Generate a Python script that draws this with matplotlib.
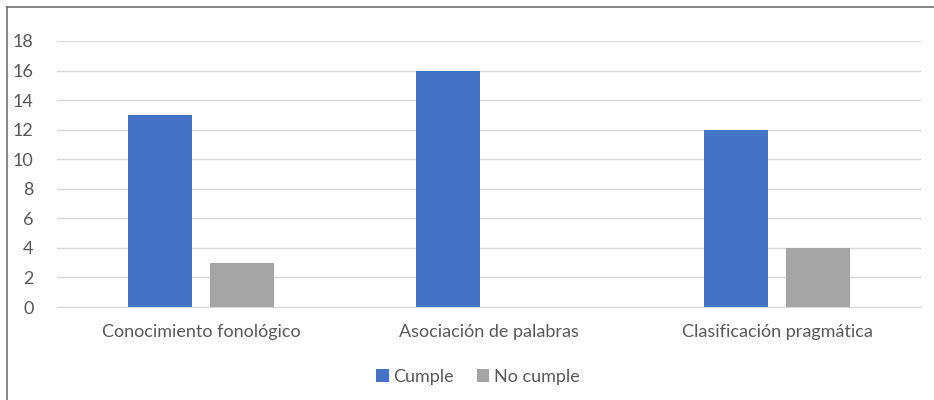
import matplotlib.pyplot as plt
import matplotlib.lines as mlines
import numpy as np

# Chart data
categories = ['Conocimiento fonológico', 'Asociación de palabras', 'Clasificación pragmática']
cumple = [13, 16, 12]
no_cumple = [3, 0, 4]
series_names = ['Cumple', 'No cumple']
y_ticks = [0, 2, 4, 6, 8, 10, 12, 14, 16, 18]

BLUE = '#4472C4'
GRAY = '#A5A5A5'
TEXT = '#595959'
GRID = '#D9D9D9'

plt.rcParams['font.family'] = ['Lato', 'DejaVu Sans']
FS = 13

W, H = 934, 400
fig = plt.figure(figsize=(W / 100, H / 100), dpi=100)

# axes placed in pixel terms of the reference
left, right, top, bottom = 57, 921, 41, 307
ax = fig.add_axes([left / W, 1 - bottom / H, (right - left) / W, (bottom - top) / H])

x = np.arange(len(categories))
width = 0.222
offset = 0.143
ax.bar(x - offset, cumple, width, color=BLUE, label=series_names[0], zorder=3)
ax.bar(x + offset, no_cumple, width, color=GRAY, label=series_names[1], zorder=3)

ax.set_xlim(-0.5, len(categories) - 0.5)
ax.set_ylim(0, 18)
ax.set_yticks(y_ticks)
ax.set_xticks(x)
ax.set_xticklabels(categories)
ax.tick_params(axis='both', length=0, colors=TEXT, labelsize=FS)
ax.tick_params(axis='x', pad=12)
ax.tick_params(axis='y', pad=17)

ax.grid(axis='y', color=GRID, linewidth=1, zorder=0)
for side in ['top', 'right', 'left']:
    ax.spines[side].set_visible(False)
ax.spines['bottom'].set_color(GRID)

leg = fig.legend(loc='center', bbox_to_anchor=(478 / W, 1 - 377 / H), ncol=2,
                 frameon=False, fontsize=FS, handlelength=0.68, handleheight=0.68,
                 handletextpad=0.25, columnspacing=1.3, borderpad=0)
for t in leg.get_texts():
    t.set_color(TEXT)

# frame of the chart area (only top and left edges visible)
fig.add_artist(mlines.Line2D([7 / W, 1], [1 - 7 / H, 1 - 7 / H], color='#6E6E6E', linewidth=1.2))
fig.add_artist(mlines.Line2D([7 / W, 7 / W], [1 - 7 / H, 0], color='#6E6E6E', linewidth=1.2))

fig.savefig('out.png', dpi=100)
